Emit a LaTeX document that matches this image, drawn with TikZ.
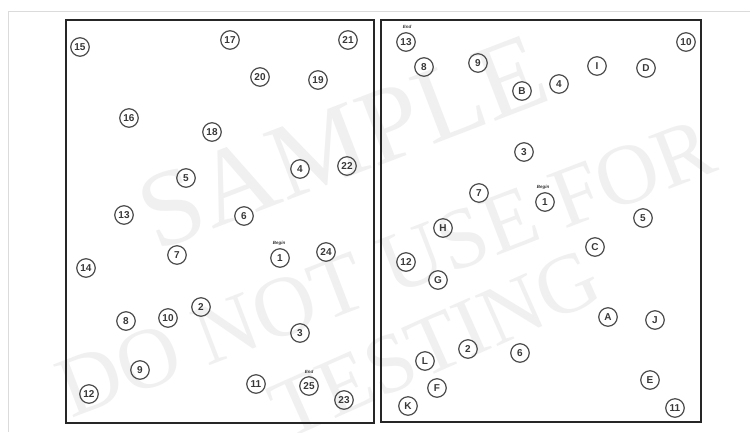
\documentclass[tikz,border=0pt]{standalone}
\usepackage{fontspec}
\setmainfont{Liberation Sans}
\newfontfamily\wmfont{Liberation Serif}
\begin{document}
\begin{tikzpicture}[x=1pt,y=-1pt,
  spot/.style={circle,draw=black!70,line width=1.2pt,minimum size=18.5pt,inner sep=0pt,
    font=\fontsize{10}{10}\selectfont\bfseries,text=black!78},
  tag/.style={font=\fontsize{4.5}{4.5}\selectfont\itshape\bfseries,text=black!80,inner sep=0pt},
  panel/.style={draw=black!85,line width=1.8pt},
  wm/.style={text=black!6,inner sep=0pt}]
\useasboundingbox (0,0) rectangle (750,432);
\fill[white] (0,0) rectangle (750,432);
% watermark
\node[wm,rotate=21,font=\wmfont\fontsize{108}{108}\selectfont] (wm1) at (343,142) {SAMPLE};
\node[wm,rotate=21,font=\wmfont\fontsize{86}{86}\selectfont] (wm2) at (386,268) {DO NOT USE FOR};
\node[wm,rotate=24,font=\wmfont\fontsize{84}{84}\selectfont] (wm3) at (435,344) {TESTING};
% faint page edge
\draw[black!14,line width=0.8pt] (8,432) -- (8,11) -- (750,11);
% panels
\draw[panel] (66,20) rectangle (374,423);
\draw[panel] (381,20) rectangle (701,422);
% left panel
\node[spot] (l15) at (80,47) {15};
\node[spot] (l17) at (230,40) {17};
\node[spot] (l21) at (348,40) {21};
\node[spot] (l20) at (260,77) {20};
\node[spot] (l19) at (318,80) {19};
\node[spot] (l16) at (129,118) {16};
\node[spot] (l18) at (212,132) {18};
\node[spot] (l4) at (300,169) {4};
\node[spot] (l22) at (347,166) {22};
\node[spot] (l5) at (186,178) {5};
\node[spot] (l13) at (124,215) {13};
\node[spot] (l6) at (244,216) {6};
\node[spot] (l1) at (280,258) {1};
\node[tag] (lbegin) at (279,243.5) {Begin};
\node[spot] (l24) at (326,252) {24};
\node[spot] (l7) at (177,255) {7};
\node[spot] (l14) at (86,268) {14};
\node[spot] (l8) at (126,321) {8};
\node[spot] (l10) at (168,318) {10};
\node[spot] (l2) at (201,307) {2};
\node[spot] (l3) at (300,333) {3};
\node[spot] (l9) at (140,370) {9};
\node[spot] (l12) at (89,394) {12};
\node[spot] (l11) at (256,384) {11};
\node[spot] (l25) at (309,386) {25};
\node[tag] (lend) at (309,371.5) {End};
\node[spot] (l23) at (344,400) {23};
% right panel
\node[spot] (r13) at (406,42) {13};
\node[tag] (rend) at (407,27) {End};
\node[spot] (r10) at (686,42) {10};
\node[spot] (r8) at (424,67) {8};
\node[spot] (r9) at (478,63) {9};
\node[spot] (rI) at (597,66) {I};
\node[spot] (rD) at (646,68) {D};
\node[spot] (rB) at (522,91) {B};
\node[spot] (r4) at (559,84) {4};
\node[spot] (r3) at (524,152) {3};
\node[spot] (r1) at (545,202) {1};
\node[tag] (rbegin) at (543,187.5) {Begin};
\node[spot] (r7) at (479,193) {7};
\node[spot] (r5) at (643,218) {5};
\node[spot] (rH) at (443,228) {H};
\node[spot] (rC) at (595,247) {C};
\node[spot] (r12) at (406,262) {12};
\node[spot] (rG) at (438,280) {G};
\node[spot] (rA) at (608,317) {A};
\node[spot] (rJ) at (655,320) {J};
\node[spot] (r2) at (468,349) {2};
\node[spot] (r6) at (520,353) {6};
\node[spot] (rL) at (425,361) {L};
\node[spot] (rF) at (437,388) {F};
\node[spot] (rK) at (408,406) {K};
\node[spot] (rE) at (650,380) {E};
\node[spot] (r11) at (675,408) {11};
\end{tikzpicture}
\end{document}
